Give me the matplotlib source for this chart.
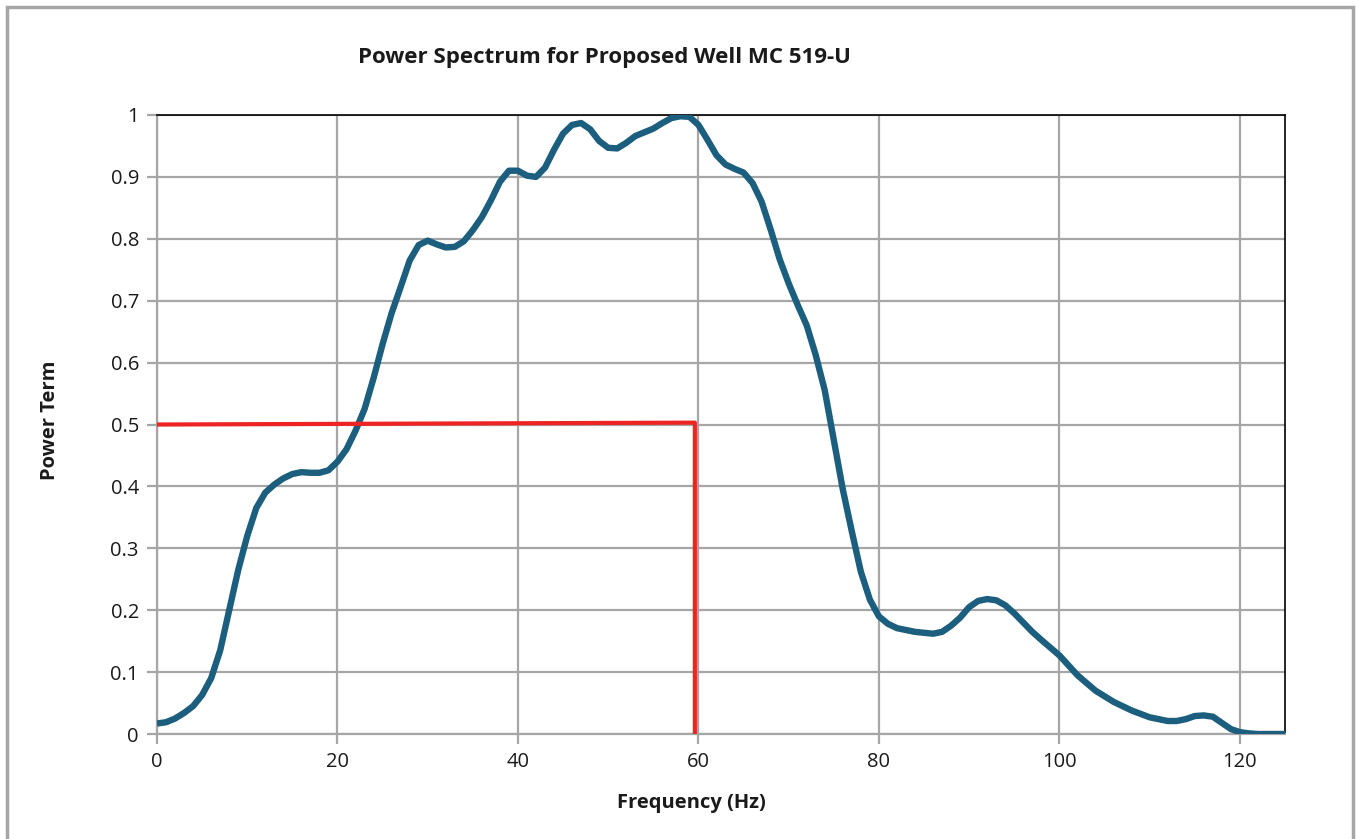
import numpy as np
import matplotlib.pyplot as plt
from matplotlib.patches import Rectangle

# values
freq = [0, 1, 2, 3, 4, 5, 6, 7, 8, 9, 10, 11, 12, 13, 14, 15, 16, 17, 18, 19,
        20, 21, 22, 23, 24, 25, 26, 27, 28, 29, 30, 31, 32, 33, 34, 35, 36, 37, 38, 39,
        40, 41, 42, 43, 44, 45, 46, 47, 48, 49, 50, 51, 52, 53, 54, 55, 56, 57, 58, 59,
        60, 61, 62, 63, 64, 65, 66, 67, 68, 69, 70, 71, 72, 73, 74, 75, 76, 77, 78, 79,
        80, 81, 82, 84, 86, 87, 88, 89, 90, 91, 92, 93, 94, 95, 96, 97, 98, 100,
        102, 104, 106, 108, 110, 112, 113, 114, 115, 116, 117, 118, 119, 120, 121, 122, 125]
power = [0.017, 0.019, 0.025, 0.034, 0.045, 0.063, 0.09, 0.135, 0.2, 0.265, 0.32, 0.365, 0.39, 0.403, 0.413, 0.42, 0.423, 0.422, 0.422, 0.426,
         0.44, 0.46, 0.49, 0.525, 0.575, 0.63, 0.68, 0.722, 0.765, 0.79, 0.797, 0.791, 0.786, 0.787, 0.796, 0.814, 0.835, 0.862, 0.892, 0.91,
         0.91, 0.902, 0.9, 0.915, 0.944, 0.97, 0.984, 0.987, 0.977, 0.958, 0.947, 0.946, 0.955, 0.966, 0.972, 0.978, 0.987, 0.995, 0.998, 0.997,
         0.984, 0.96, 0.935, 0.92, 0.913, 0.907, 0.89, 0.86, 0.815, 0.767, 0.728, 0.693, 0.66, 0.612, 0.555, 0.475, 0.395, 0.327, 0.262, 0.217,
         0.19, 0.178, 0.171, 0.165, 0.162, 0.165, 0.175, 0.188, 0.205, 0.215, 0.218, 0.216, 0.208, 0.195, 0.18, 0.165, 0.152, 0.127,
         0.095, 0.07, 0.052, 0.038, 0.027, 0.021, 0.021, 0.024, 0.029, 0.03, 0.028, 0.018, 0.008, 0.003, 0.001, 0.0, 0.0]

marker_x = [0, 59.6, 59.6]
marker_y = [0.5, 0.503, 0.0]

xticks = [0, 20, 40, 60, 80, 100, 120]
yticks = [0, 0.1, 0.2, 0.3, 0.4, 0.5, 0.6, 0.7, 0.8, 0.9, 1]
ytick_labels = ["0", "0.1", "0.2", "0.3", "0.4", "0.5", "0.6", "0.7", "0.8", "0.9", "1"]

plt.rcParams['font.family'] = ['Open Sans', 'DejaVu Sans']

fig = plt.figure(figsize=(13.58, 8.39), dpi=100)
ax = fig.add_axes([157 / 1358, 1 - 734 / 839, (1285 - 157) / 1358, (734 - 115) / 839])

grid_col = '#a6a6a6'
ax.set_xlim(0, 125)
ax.set_ylim(0, 1)
ax.set_xticks(xticks)
ax.set_yticks(yticks)
ax.set_yticklabels(ytick_labels)
ax.grid(True, color=grid_col, linewidth=1.6, zorder=0)
ax.set_axisbelow(True)
ax.tick_params(axis='both', direction='out', length=7, width=1.6, color=grid_col,
               labelsize=14.5, labelcolor='#1a1a1a', pad=6)
ax.spines['left'].set_color(grid_col)
ax.spines['bottom'].set_color(grid_col)
ax.spines['left'].set_linewidth(1.6)
ax.spines['bottom'].set_linewidth(1.6)
ax.spines['top'].set_color('black')
ax.spines['right'].set_color('black')
ax.spines['top'].set_linewidth(1.2)
ax.spines['right'].set_linewidth(1.2)

ax.plot(freq, power, color='#1b5e7e', linewidth=4.6, solid_capstyle='butt', zorder=3)
ax.plot(marker_x, marker_y, color='#ee2424', linewidth=3, zorder=4)

fig.text(604 / 1358, 1 - 58 / 839, 'Power Spectrum for Proposed Well MC 519-U',
         ha='center', va='center', fontsize=16, fontweight='bold', color='#1a1a1a')
fig.text(691 / 1358, 1 - 803 / 839, 'Frequency (Hz)', ha='center', va='center',
         fontsize=14.5, fontweight='bold', color='#1a1a1a')
fig.text(50 / 1358, 1 - 420 / 839, 'Power Term', ha='center', va='center', rotation=90,
         fontsize=14.5, fontweight='bold', color='#1a1a1a')

# outer chart frame
fig.patches.append(Rectangle((7 / 1358, -0.05), (1353 - 7) / 1358, 1.05 - 7 / 839,
                             transform=fig.transFigure, fill=False,
                             edgecolor='#a6a6a6', linewidth=2.5))

fig.savefig('out.png', dpi=100)
